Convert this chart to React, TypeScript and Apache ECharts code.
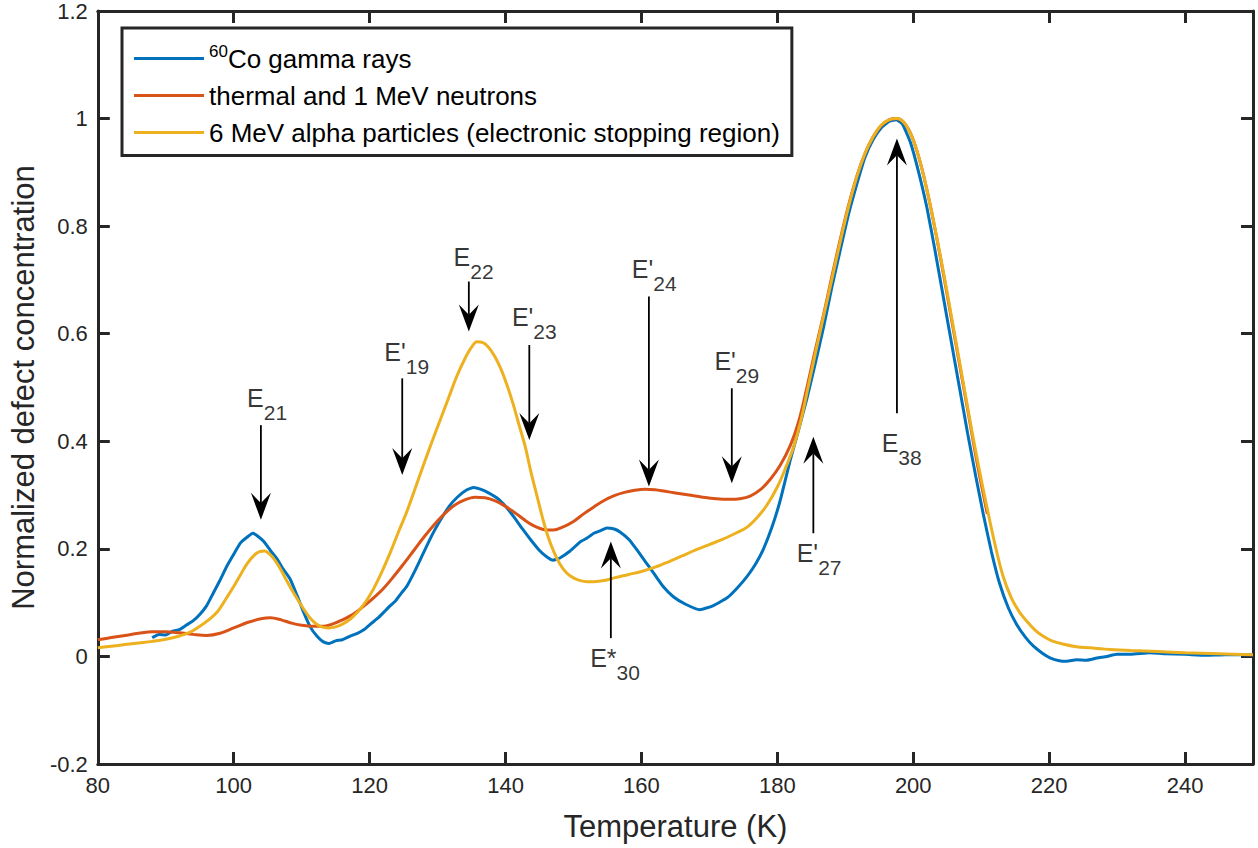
import React, { useEffect, useRef } from "react";
import * as echarts from "echarts";

// ---- Data ----
const gammaRays: [number, number][] = [
  [88.0, 0.035], [89.0, 0.041], [90.0, 0.04], [91.0, 0.047], [92.0, 0.05], [93.0, 0.058], [94.0, 0.066],
  [95.0, 0.078], [96.0, 0.094], [97.0, 0.118], [98.0, 0.142], [99.0, 0.168], [100.0, 0.19], [101.0, 0.211],
  [102.0, 0.222], [102.8, 0.229], [103.5, 0.224], [104.4, 0.214], [105.4, 0.197], [106.4, 0.181],
  [107.3, 0.162], [108.3, 0.144], [109.3, 0.114], [110.3, 0.082], [111.3, 0.054], [112.3, 0.037],
  [113.2, 0.027], [114.0, 0.024], [115.0, 0.029], [116.0, 0.031], [117.2, 0.038], [118.2, 0.043],
  [119.2, 0.05], [120.2, 0.061], [121.2, 0.071], [122.0, 0.081], [123.0, 0.094], [123.8, 0.103],
  [124.7, 0.118], [125.5, 0.131], [126.7, 0.16], [127.9, 0.192], [129.2, 0.226], [130.4, 0.253],
  [131.7, 0.279], [132.9, 0.296], [134.2, 0.309], [135.3, 0.314], [136.3, 0.311], [137.5, 0.304],
  [138.8, 0.294], [140.0, 0.279], [141.2, 0.26], [142.5, 0.237], [143.7, 0.217], [145.0, 0.197],
  [146.1, 0.185], [147.0, 0.179], [148.0, 0.183], [149.5, 0.196], [151.0, 0.213], [152.0, 0.22],
  [153.0, 0.229], [154.0, 0.234], [154.9, 0.239], [156.0, 0.237], [156.9, 0.231], [158.2, 0.217],
  [159.4, 0.197], [160.6, 0.176], [161.8, 0.155], [163.2, 0.13], [164.7, 0.111], [166.5, 0.097],
  [168.6, 0.087], [170.5, 0.094], [172.6, 0.109], [174.0, 0.126], [175.5, 0.148], [176.8, 0.172],
  [177.9, 0.198], [179.2, 0.24], [180.4, 0.289], [181.9, 0.365], [183.1, 0.42], [184.3, 0.477],
  [185.5, 0.54], [186.8, 0.612], [188.0, 0.685], [189.2, 0.752], [190.4, 0.818], [191.7, 0.878],
  [192.9, 0.928], [194.1, 0.961], [195.3, 0.983], [196.5, 0.995], [197.5, 0.998], [198.4, 0.99],
  [199.6, 0.955], [200.8, 0.9], [202.0, 0.835], [203.2, 0.755], [204.4, 0.67], [205.6, 0.585],
  [206.8, 0.5], [208.0, 0.415], [209.2, 0.335], [210.3, 0.265], [211.5, 0.195], [212.7, 0.136],
  [214.0, 0.09], [215.2, 0.06], [216.5, 0.036], [217.7, 0.019], [219.0, 0.006], [220.2, -0.003],
  [221.5, -0.008], [222.6, -0.009], [224.0, -0.006], [225.5, -0.007], [227.0, -0.003], [228.5, 0.0],
  [230.0, 0.004], [232.0, 0.004], [234.8, 0.007], [237.0, 0.005], [240.0, 0.004], [243.0, 0.002],
  [246.0, 0.003], [250.0, 0.003],
];

const neutrons: [number, number][] = [
  [80, 0.031], [82, 0.035], [84, 0.039], [86, 0.043], [88, 0.046], [90, 0.046], [92, 0.044], [94, 0.041],
  [96, 0.039], [98, 0.043], [100, 0.053], [102, 0.063], [104, 0.07], [105.4, 0.072], [107, 0.068],
  [108.5, 0.062], [110, 0.058], [111.5, 0.056], [113, 0.056], [114.5, 0.06], [116, 0.068], [117.5, 0.078],
  [119, 0.092], [120.5, 0.108], [122, 0.126], [123.5, 0.148], [125, 0.172], [126.5, 0.197], [128, 0.222],
  [129.5, 0.245], [131, 0.265], [132.5, 0.281], [134, 0.291], [135.5, 0.296], [137, 0.295], [138.5, 0.289],
  [140, 0.279], [141.5, 0.266], [143, 0.252], [144.5, 0.241], [146, 0.235], [147, 0.235], [148.5, 0.241],
  [150, 0.251], [151.5, 0.265], [153, 0.278], [154.5, 0.29], [156, 0.299], [157.5, 0.305], [159, 0.309],
  [160.5, 0.311], [162, 0.31], [163.5, 0.307], [165, 0.304], [167, 0.3], [169, 0.296], [171, 0.293],
  [173, 0.292], [174.5, 0.293], [176, 0.298], [177.5, 0.31], [179, 0.33], [180.4, 0.355], [181.9, 0.392],
  [183.1, 0.435], [184.3, 0.497], [185.5, 0.565], [186.8, 0.635], [188, 0.705], [189.2, 0.772],
  [190.4, 0.835], [191.7, 0.893], [192.9, 0.935], [194.1, 0.966], [195.3, 0.987], [196.5, 0.998],
  [197.5, 1.0], [198.6, 0.993], [199.8, 0.967], [201, 0.92], [202.2, 0.857], [203.4, 0.782], [204.6, 0.7],
  [205.8, 0.615], [207, 0.53], [208.2, 0.445], [209.4, 0.36], [210.9, 0.265],
];

const alphaParticles: [number, number][] = [
  [80, 0.016], [82, 0.019], [84, 0.022], [86, 0.025], [88, 0.028], [90, 0.032], [92, 0.038], [93.6, 0.045],
  [95, 0.056], [96.3, 0.068], [97.6, 0.083], [99, 0.11], [100, 0.13], [101, 0.152], [102, 0.173],
  [103, 0.188], [103.8, 0.195], [104.5, 0.196], [105.3, 0.19], [106.1, 0.178], [106.9, 0.162],
  [107.7, 0.143], [108.5, 0.125], [109.3, 0.108], [110.2, 0.09], [111.2, 0.072], [112.2, 0.06],
  [113.2, 0.054], [114, 0.053], [115, 0.055], [116, 0.06], [117.2, 0.07], [118.4, 0.085], [119.5, 0.103],
  [120.6, 0.126], [121.8, 0.157], [123, 0.192], [124.2, 0.23], [125.5, 0.27], [126.7, 0.312],
  [127.9, 0.355], [129.2, 0.4], [130.4, 0.44], [131.6, 0.48], [132.8, 0.52], [134, 0.553], [135, 0.575],
  [135.8, 0.585], [136.6, 0.584], [137.5, 0.575], [138.4, 0.558], [139.3, 0.535], [140.2, 0.505],
  [141.1, 0.47], [142, 0.43], [142.9, 0.39], [143.7, 0.345], [144.6, 0.3], [145.4, 0.26], [146.2, 0.225],
  [147.1, 0.195], [148, 0.172], [149, 0.155], [150, 0.146], [151, 0.141], [152, 0.139], [153, 0.139],
  [154.5, 0.141], [156, 0.146], [158, 0.152], [160, 0.158], [162, 0.166], [164, 0.176], [166, 0.187],
  [168, 0.198], [170, 0.208], [172, 0.218], [174, 0.23], [175.5, 0.24], [177, 0.258], [178.5, 0.282],
  [180, 0.315], [181.2, 0.35], [182.4, 0.39], [183.5, 0.44], [184.6, 0.505], [185.7, 0.57], [186.8, 0.632],
  [188, 0.7], [189.2, 0.768], [190.4, 0.832], [191.7, 0.892], [192.9, 0.935], [194.1, 0.966],
  [195.3, 0.988], [196.5, 0.998], [197.6, 1.0], [198.8, 0.99], [200, 0.96], [201.2, 0.91], [202.4, 0.845],
  [203.6, 0.77], [204.8, 0.69], [206, 0.605], [207.2, 0.52], [208.4, 0.435], [209.6, 0.355], [210.8, 0.28],
  [212, 0.21], [213.2, 0.15], [214.4, 0.11], [215.6, 0.083], [216.8, 0.064], [218, 0.048], [219.2, 0.037],
  [220.4, 0.029], [222, 0.023], [224, 0.018], [226, 0.016], [229, 0.013], [232, 0.011], [236, 0.009],
  [240, 0.007], [245, 0.005], [250, 0.003],
];

const seriesNames = [
  "60Co gamma rays",
  "thermal and 1 MeV neutrons",
  "6 MeV alpha particles (electronic stopping region)",
];
const seriesColors = ["#0072BD", "#D95319", "#EDB120"];

// Arrows: [temperature, tail value, tip value]
const arrows: [number, number, number][] = [
  [104.0, 0.43, 0.254],
  [124.8, 0.517, 0.3375],
  [134.6, 0.697, 0.604],
  [143.5, 0.579, 0.4025],
  [161.1, 0.669, 0.316],
  [173.3, 0.4985, 0.322],
  [155.5, 0.034, 0.2136],
  [185.3, 0.229, 0.4086],
  [197.6, 0.452, 0.963],
];

// Labels: anchor (left of "E", middle of its cap height)
const labelMain = ["E", "E'", "E", "E'", "E'", "E'", "E*", "E'", "E"];
const labelSub = ["21", "19", "22", "23", "24", "29", "30", "27", "38"];
const labelX = [101.97, 122.16, 132.35, 140.94, 158.59, 170.74, 152.46, 182.85, 195.35];
const labelY = [0.4805, 0.5665, 0.743, 0.6315, 0.7195, 0.5498, -0.003, 0.192, 0.3963];

const xTicks = { min: 80, max: 250, interval: 20 };
const yTicks = { min: -0.2, max: 1.2, interval: 0.2 };

const FONT = "'Liberation Sans', Arial, Helvetica, sans-serif";
const AXIS_COLOR = "#262626";

export default function App() {
  const ref = useRef<HTMLDivElement>(null);

  useEffect(() => {
    if (!ref.current) return;
    const chart = echarts.init(ref.current, undefined, { renderer: "svg" });

    const axisCommon = {
      type: "value" as const,
      axisLine: { show: true, onZero: false, lineStyle: { color: AXIS_COLOR, width: 3 } },
      axisTick: { show: true, inside: true, length: 12, lineStyle: { color: AXIS_COLOR, width: 3 } },
      splitLine: { show: false },
    };

    const lineSeries = [gammaRays, neutrons, alphaParticles].map((d, i) => ({
      name: seriesNames[i],
      type: "line" as const,
      data: d,
      showSymbol: false,
      symbol: "none",
      smooth: i === 0 ? 0.15 : 0.35,
      lineStyle: { color: seriesColors[i], width: 3 },
      itemStyle: { color: seriesColors[i] },
      z: 2 + i,
      silent: true,
    }));

    const option: any = {
      animation: false,
      backgroundColor: "#ffffff",
      textStyle: { fontFamily: FONT },
      grid: { left: 97, right: 5, top: 11, bottom: 84, containLabel: false },
      legend: {
        data: seriesNames.map((n, i) => ({ name: n, icon: "rect", itemStyle: { color: seriesColors[i] } })),
        orient: "vertical",
        left: 122,
        top: 28,
        backgroundColor: "#ffffff",
        borderColor: AXIS_COLOR,
        borderWidth: 3,
        borderRadius: 0,
        padding: [15, 12, 10, 12],
        itemGap: 11,
        itemWidth: 70,
        itemHeight: 3,
        selectedMode: false,
        formatter: (name: string) =>
          name.startsWith("60") ? "{sup|60}{t|" + name.slice(2) + "}" : "{t|" + name + "}",
        textStyle: {
          fontFamily: FONT,
          color: "#000",
          fontSize: 26,
          rich: {
            t: { fontFamily: FONT, fontSize: 26, color: "#000", lineHeight: 30 },
            sup: { fontFamily: FONT, fontSize: 17, color: "#000", padding: [0, 0, 14, 0] },
          },
        },
      },
      xAxis: [
        {
          ...axisCommon,
          position: "bottom",
          min: xTicks.min,
          max: xTicks.max,
          interval: xTicks.interval,
          name: "Temperature (K)",
          nameLocation: "middle",
          nameGap: 47,
          nameTextStyle: { fontFamily: FONT, fontSize: 31, color: AXIS_COLOR },
          axisLabel: {
            fontFamily: FONT,
            fontSize: 22,
            color: AXIS_COLOR,
            margin: 10,
            showMaxLabel: false,
          },
        },
        {
          ...axisCommon,
          position: "top",
          min: xTicks.min,
          max: xTicks.max,
          interval: xTicks.interval,
          axisLabel: { show: false },
        },
      ],
      yAxis: [
        {
          ...axisCommon,
          position: "left",
          min: yTicks.min,
          max: yTicks.max,
          interval: yTicks.interval,
          name: "Normalized defect concentration",
          nameLocation: "middle",
          nameGap: 56,
          nameRotate: 90,
          nameTextStyle: { fontFamily: FONT, fontSize: 31, color: AXIS_COLOR },
          axisLabel: {
            fontFamily: FONT,
            fontSize: 22,
            color: AXIS_COLOR,
            margin: 10,
            formatter: (v: number) => String(Math.round(v * 10) / 10),
          },
        },
        {
          ...axisCommon,
          position: "right",
          min: yTicks.min,
          max: yTicks.max,
          interval: yTicks.interval,
          axisLabel: { show: false },
        },
      ],
      series: [
        ...lineSeries,
        {
          name: "arrows",
          type: "custom",
          coordinateSystem: "cartesian2d",
          silent: true,
          clip: false,
          z: 10,
          encode: { x: 0, y: [1, 2] },
          data: arrows,
          renderItem: (params: any, api: any) => {
            const x = api.value(0);
            const p1 = api.coord([x, api.value(1)]);
            const p2 = api.coord([x, api.value(2)]);
            const dir = p2[1] > p1[1] ? 1 : -1;
            const L = 27;
            const W = 10;
            const backY = p2[1] - dir * L;
            const notchY = p2[1] - dir * L * 0.62;
            return {
              type: "group",
              children: [
                {
                  type: "line",
                  shape: { x1: p1[0], y1: p1[1], x2: p2[0], y2: notchY },
                  style: { stroke: "#000", lineWidth: 1.8 },
                },
                {
                  type: "polygon",
                  shape: {
                    points: [
                      [p2[0], p2[1]],
                      [p2[0] - W, backY],
                      [p2[0], notchY],
                      [p2[0] + W, backY],
                    ],
                  },
                  style: { fill: "#000" },
                },
              ],
            };
          },
        },
        {
          name: "labels",
          type: "scatter",
          silent: true,
          symbolSize: 0,
          z: 11,
          data: labelX.map((x, i) => ({ value: [x, labelY[i]], name: String(i) })),
          label: {
            show: true,
            position: [0, 0],
            align: "left",
            verticalAlign: "top",
            offset: [0, -25],
            formatter: (p: any) => {
              const i = Number(p.name);
              return "{e|" + labelMain[i] + "}{s|" + labelSub[i] + "}";
            },
            rich: {
              e: { fontFamily: FONT, fontSize: 25, color: "#000" },
              s: { fontFamily: FONT, fontSize: 21, color: "#000", padding: [29, 0, 0, 0] },
            },
          },
        },
      ],
    };

    chart.setOption(option);
    return () => chart.dispose();
  }, []);

  return (
    <div
      ref={ref}
      style={{ position: "fixed", left: 0, top: 0, width: 1258, height: 848, background: "#fff" }}
    />
  );
}
